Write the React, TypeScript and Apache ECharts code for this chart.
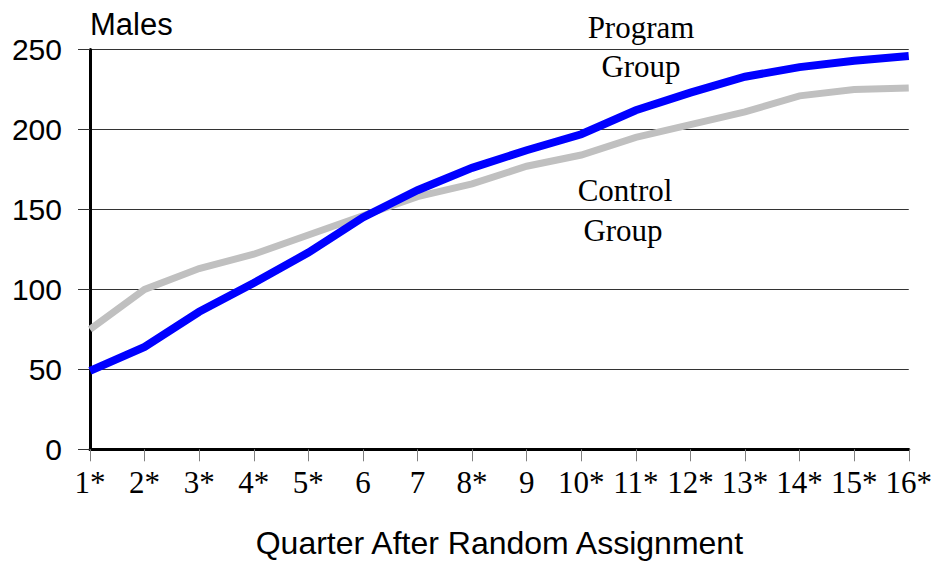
import React, { useEffect, useRef } from "react";
import * as echarts from "echarts";

const quarters = ["1*", "2*", "3*", "4*", "5*", "6", "7", "8*", "9", "10*", "11*", "12*", "13*", "14*", "15*", "16*"];
const programGroup = [49, 64, 86, 104, 123, 145, 162, 176, 187, 197, 212, 223, 233, 239, 243, 246];
const controlGroup = [75, 100, 113, 122, 134, 146, 158, 166, 177, 184, 195, 203, 211, 221, 225, 226];
const yTicks = [0, 50, 100, 150, 200, 250];

export default function App() {
  const ref = useRef<HTMLDivElement>(null);
  useEffect(() => {
    if (!ref.current) return;
    const chart = echarts.init(ref.current, undefined, { renderer: "svg" });
    const serif = "'Liberation Serif', 'Times New Roman', serif";
    const sans = "'Liberation Sans', Arial, sans-serif";
    chart.setOption({
      animation: false,
      backgroundColor: "#ffffff",
      grid: { left: 90, right: 26, top: 49.5, bottom: 115.7, containLabel: false },
      xAxis: {
        type: "category",
        data: quarters,
        boundaryGap: false,
        name: "Quarter After Random Assignment",
        nameLocation: "middle",
        nameGap: 78,
        nameTextStyle: { fontFamily: sans, fontSize: 32, color: "#000" },
        axisLine: { lineStyle: { color: "#000", width: 3 } },
        axisTick: { show: true, length: 12, lineStyle: { color: "#808080", width: 1 } },
        axisLabel: { fontFamily: serif, fontSize: 31, color: "#000", margin: 18, interval: 0 },
        splitLine: { show: false },
      },
      yAxis: {
        type: "value",
        min: yTicks[0],
        max: yTicks[yTicks.length - 1],
        interval: 50,
        name: "Males",
        nameLocation: "end",
        nameGap: 10,
        nameTextStyle: { fontFamily: sans, fontSize: 31, color: "#000", align: "left", verticalAlign: "bottom" },
        axisLine: { show: true, lineStyle: { color: "#000", width: 3 } },
        axisTick: { show: true, length: 12, lineStyle: { color: "#333", width: 1 } },
        axisLabel: { fontFamily: sans, fontSize: 30, color: "#000", margin: 28 },
        splitLine: { show: true, lineStyle: { color: "#333", width: 1 } },
      },
      graphic: [
        { type: "text", x: 641, y: 27, style: { text: "Program", font: `31px ${serif}`, fill: "#000", textAlign: "center", textVerticalAlign: "middle" } },
        { type: "text", x: 641, y: 66, style: { text: "Group", font: `31px ${serif}`, fill: "#000", textAlign: "center", textVerticalAlign: "middle" } },
        { type: "text", x: 625, y: 190, style: { text: "Control", font: `31px ${serif}`, fill: "#000", textAlign: "center", textVerticalAlign: "middle" } },
        { type: "text", x: 623, y: 230, style: { text: "Group", font: `31px ${serif}`, fill: "#000", textAlign: "center", textVerticalAlign: "middle" } },
      ],
      series: [
        {
          name: "Control Group",
          type: "line",
          data: controlGroup,
          symbol: "none",
          lineStyle: { color: "#c0c0c0", width: 7, cap: "butt", join: "miter" },
          z: 2,
        },
        {
          name: "Program Group",
          type: "line",
          data: programGroup,
          symbol: "none",
          lineStyle: { color: "#0000ff", width: 8, cap: "butt", join: "miter" },
          z: 3,
        },
      ],
    });
    return () => chart.dispose();
  }, []);
  return <div ref={ref} style={{ width: 935, height: 565, position: "absolute", left: 0, top: 0 }} />;
}
